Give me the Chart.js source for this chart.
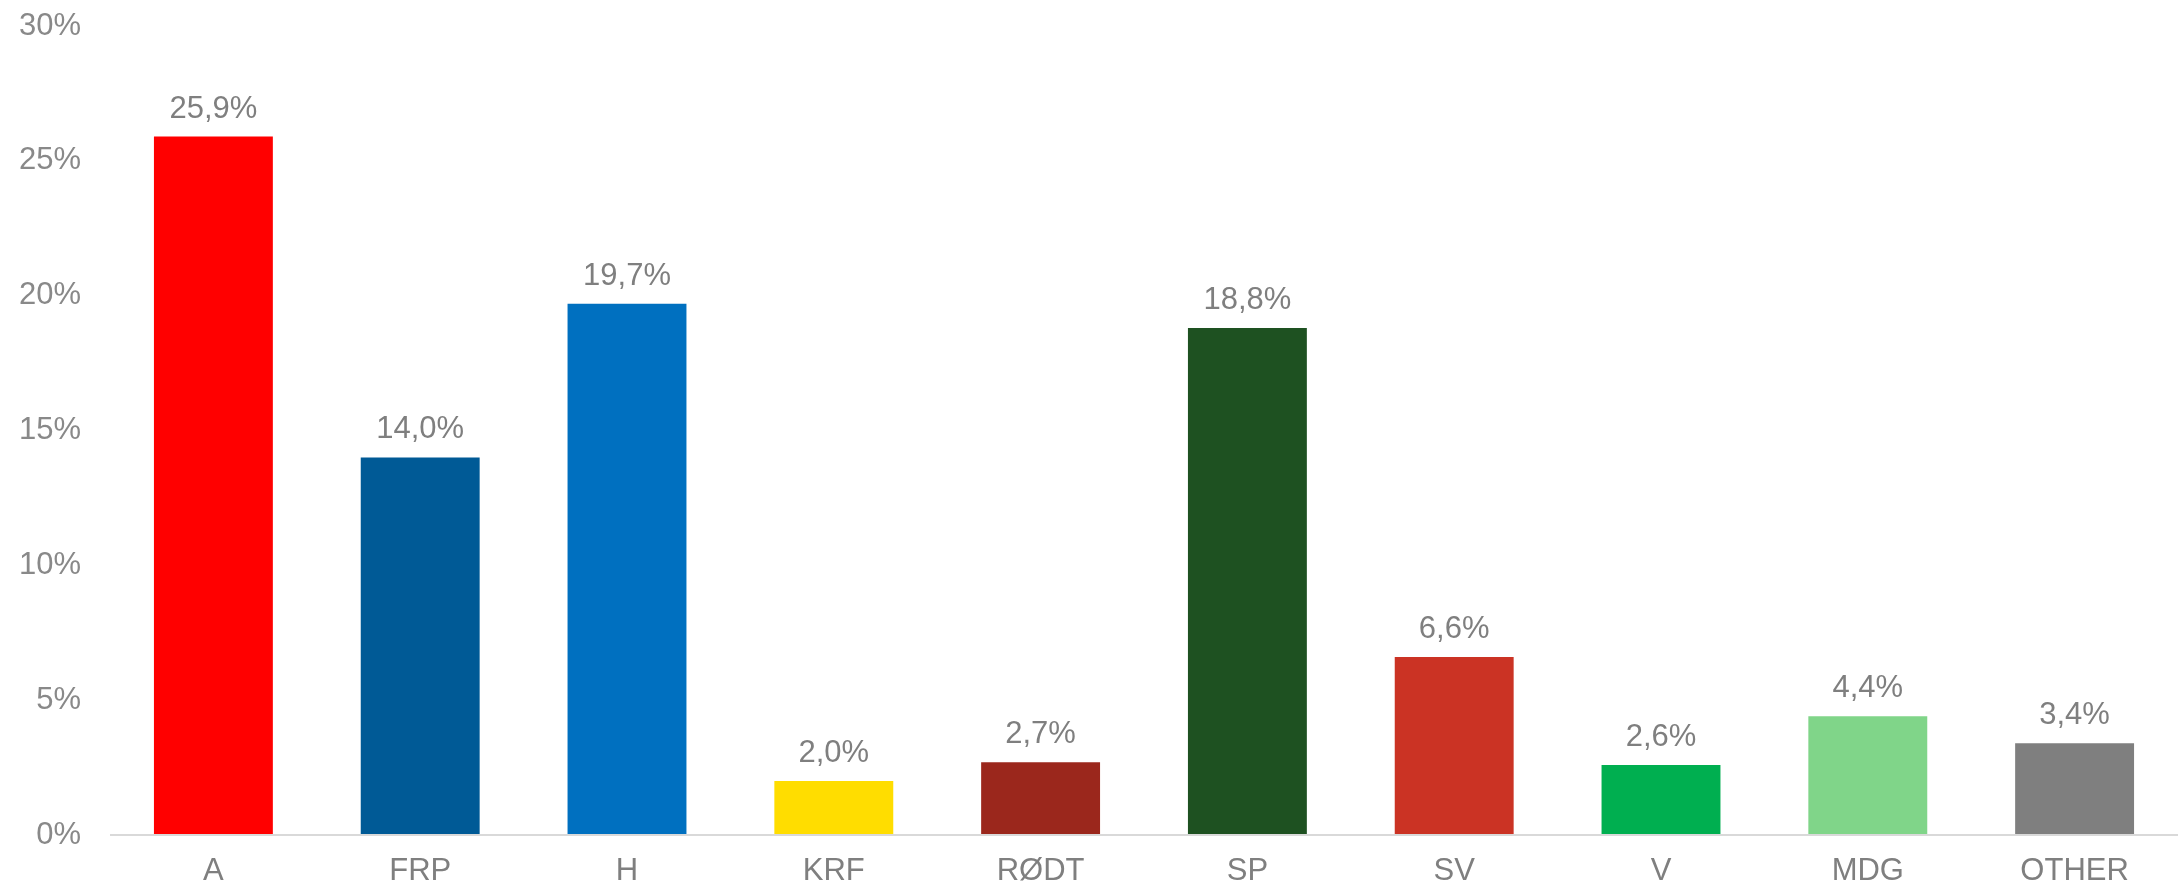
<!DOCTYPE html>
<html>
<head>
<meta charset="utf-8">
<script src="https://cdn.jsdelivr.net/npm/chart.js@4.4.1/dist/chart.umd.min.js"></script>
<style>
html,body{margin:0;padding:0;background:#fff;}
#wrap{width:2178px;height:890px;position:relative;}
</style>
</head>
<body>
<div id="wrap"><canvas id="c" width="2178" height="890"></canvas></div>
<script>
const categories = ["A","FRP","H","KRF","RØDT","SP","SV","V","MDG","OTHER"];
const values = [25.9,14.0,19.7,2.0,2.7,18.8,6.6,2.6,4.4,3.4];
const barColors = ["#FF0000","#005A96","#0070C0","#FFDD00","#9B271C","#1E5121","#CB3324","#00AF50","#80D589","#7F7F7F"];
const yTicks = [0,5,10,15,20,25,30];

const FONT = "'Liberation Sans', Arial, sans-serif";

const labelPlugin = {
  id: 'barLabels',
  afterDatasetsDraw(chart) {
    const ctx = chart.ctx;
    const meta = chart.getDatasetMeta(0);
    ctx.save();
    ctx.font = "31px " + FONT;
    ctx.fillStyle = "#7F7F7F";
    ctx.textAlign = "center";
    ctx.textBaseline = "alphabetic";
    meta.data.forEach((el, i) => {
      ctx.fillText(values[i].toFixed(1).replace('.', ',') + '%', el.x, el.y - 19);
    });
    ctx.restore();
  }
};

new Chart(document.getElementById('c'), {
  type: 'bar',
  data: {
    labels: categories,
    datasets: [{
      data: values,
      backgroundColor: barColors,
      borderWidth: 0,
      barPercentage: 0.575,
      categoryPercentage: 1.0
    }]
  },
  options: {
    responsive: false,
    maintainAspectRatio: false,
    animation: false,
    devicePixelRatio: 1,
    layout: { padding: { top: 26, right: 0, left: 0, bottom: 0 } },
    plugins: { legend: { display: false }, tooltip: { enabled: false } },
    scales: {
      x: {
        afterFit(scale) { scale.height = 55; scale.paddingLeft = 0; scale.paddingRight = 0; },
        grid: { display: false, drawTicks: false },
        border: { display: false },
        ticks: { color: "#7F7F7F", font: { family: FONT, size: 31 }, padding: 18, maxRotation: 0, minRotation: 0, autoSkip: false }
      },
      y: {
        min: 0, max: 30,
        afterBuildTicks(scale) { scale.ticks = yTicks.map(v => ({ value: v })); },
        afterFit(scale) { scale.width = 110; scale.paddingTop = 0; scale.paddingBottom = 0; },
        grid: {
          drawTicks: false,
          lineWidth: 2,
          color: c => (c.tick && c.tick.value === 0) ? "#D9D9D9" : "rgba(0,0,0,0)"
        },
        border: { display: false },
        ticks: { color: "#898989", font: { family: FONT, size: 31 }, padding: 29,
          callback: v => v + '%' }
      }
    }
  },
  plugins: [labelPlugin]
});
</script>
</body>
</html>
